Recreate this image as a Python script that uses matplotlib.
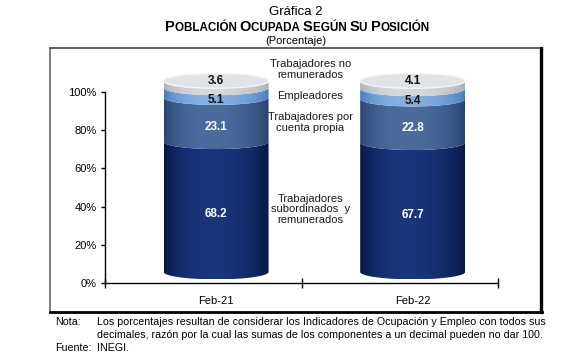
import matplotlib
matplotlib.use("Agg")
import matplotlib.pyplot as plt
import numpy as np
from matplotlib.colors import to_rgb
from matplotlib.lines import Line2D
from matplotlib.offsetbox import AnchoredOffsetbox, HPacker, TextArea
from matplotlib.patches import Ellipse, PathPatch
from matplotlib.path import Path

plt.rcParams['font.family'] = ['Liberation Sans', 'DejaVu Sans']

# data (percent of employed population)
periods = ['Feb-21', 'Feb-22']
subordinados = [68.2, 67.7]
cuenta_propia = [23.1, 22.8]
empleadores = [5.1, 5.4]
no_remunerados = [3.6, 4.1]
series_names = ['Trabajadores\nsubordinados  y\nremunerados',
                'Trabajadores por\ncuenta propia',
                'Empleadores',
                'Trabajadores no\nremunerados']
series = [subordinados, cuenta_propia, empleadores, no_remunerados]

# (edge colour, highlight colour) for each series
shades = [('#06143f', '#1a357c'),
          ('#27416c', '#4b6c9d'),
          ('#4679bb', '#85b0e4'),
          ('#a9aeb5', '#d6d9dd')]
value_colors = ['white', 'white', '#111111', '#111111']

title = 'POBLACIÓN OCUPADA SEGÚN SU POSICIÓN'

half_w = 0.267   # half width of a cylinder (x units)
ell_h = 3.9      # half height of the ellipses (y units)
depth = 5.8      # ellipse centre sits this far above the value

fig = plt.figure(figsize=(5.8, 3.62), dpi=100)
ax = fig.add_axes([0.181, 0.2182, 0.678, 0.607])


def front(xc, yc, reverse=False, n=80):
    th = np.linspace(np.pi, 2 * np.pi, n)
    if reverse:
        th = th[::-1]
    return np.column_stack([xc + half_w * np.cos(th), yc + ell_h * np.sin(th)])


t = np.linspace(0, 1, 256)
profile = np.where(t < 0.42, 1 - ((0.42 - t) / 0.42) ** 2, 1 - ((t - 0.42) / 0.58) ** 2)
profile = np.clip(profile, 0, 1) ** 0.7

x_pos = np.arange(len(periods))
for i, xc in enumerate(x_pos):
    bottom = 0.0
    for k, vals in enumerate(series):
        v = vals[i]
        c0 = bottom + depth
        c1 = bottom + v + depth
        verts = np.vstack([front(xc, c0), front(xc, c1, reverse=True), [[xc - half_w, c0]]])
        codes = [Path.MOVETO] + [Path.LINETO] * (len(verts) - 2) + [Path.CLOSEPOLY]
        patch = PathPatch(Path(verts, codes), facecolor='none', edgecolor='none',
                          transform=ax.transData)
        ax.add_patch(patch)
        lo, hi = np.array(to_rgb(shades[k][0])), np.array(to_rgb(shades[k][1]))
        grad = (lo + (hi - lo) * profile[:, None])[None, :, :]
        im = ax.imshow(grad, extent=[xc - half_w, xc + half_w, c0 - ell_h, c1],
                       aspect='auto', interpolation='bilinear', zorder=2)
        im.set_clip_path(patch)
        if k < len(series) - 1:
            ty = bottom + v / 2 + depth - ell_h
        else:
            ty = bottom + v + depth
        ax.text(xc, ty, f'{v:.1f}', ha='center', va='center', fontsize=8.5,
                fontweight='bold', color=value_colors[k], zorder=5)
        bottom += v
    # top face
    ax.add_patch(Ellipse((xc, bottom + depth), 2 * half_w, 2 * ell_h,
                         facecolor='#e1e3e6', edgecolor='#f6f6f7', lw=1.0, zorder=3))

# series names between the two cylinders
bottoms = np.cumsum([[0, 0]] + series[:-1], axis=0)
for k, name in enumerate(series_names):
    if k < len(series) - 1:
        ny = np.mean(bottoms[k] + np.array(series[k]) / 2) + depth - ell_h + 2.6
    else:
        ny = np.mean(bottoms[k] + np.array(series[k])) + depth + 6
    ax.text(0.48, ny, name, ha='center', va='center', fontsize=8, linespacing=1.1,
            color='#1a1a1a')

ax.set_xlim(-0.565, 1.435)
ax.set_ylim(0, 115)
ax.set_yticks(range(0, 101, 20))
ax.set_yticklabels([f'{v}%' for v in range(0, 101, 20)], fontsize=8)
ax.set_xticks(x_pos)
ax.set_xticklabels(periods, fontsize=8)
ax.set_xticks([-0.565, 0.435, 1.435], minor=True)
ax.tick_params(axis='x', which='major', length=0, pad=9)
ax.tick_params(axis='x', which='minor', direction='inout', length=7, width=1)
ax.tick_params(axis='y', direction='out', length=3, width=1, pad=3)
for s in ['top', 'right']:
    ax.spines[s].set_visible(False)
ax.spines['left'].set_bounds(0, 100)
ax.spines['left'].set_linewidth(1)
ax.spines['bottom'].set_linewidth(1)

# titles
fig.text(0.51, 0.967, 'Gráfica 2', ha='center', va='center', fontsize=9.5)
words = title.split(' ')
pieces = []
for j, word in enumerate(words):
    rest = word[1:] + (' ' if j < len(words) - 1 else '')
    pieces.append(TextArea(word[0], textprops=dict(fontsize=10.5, fontweight='bold')))
    pieces.append(TextArea(rest, textprops=dict(fontsize=8.4, fontweight='bold')))
box = HPacker(children=pieces, align='baseline', pad=0, sep=0)
fig.add_artist(AnchoredOffsetbox(loc='center', child=box, frameon=False, pad=0, borderpad=0,
                                 bbox_to_anchor=(0.513, 0.926), bbox_transform=fig.transFigure))
fig.text(0.51, 0.887, '(Porcentaje)', ha='center', va='center', fontsize=8)

# frame round the chart
x0, x1, y0, y1 = 0.0862, 0.9328, 0.1381, 0.8674
fig.add_artist(Line2D([x0, x1], [y1, y1], color='#444444', lw=1.2, transform=fig.transFigure))
fig.add_artist(Line2D([x0, x0], [y0, y1], color='#666666', lw=1.2, transform=fig.transFigure))
fig.add_artist(Line2D([x1, x1], [y0, y1], color='black', lw=2.4, transform=fig.transFigure))
fig.add_artist(Line2D([x0, x1 + 0.002], [y0, y0], color='black', lw=2.0, transform=fig.transFigure))

# notes
fig.text(0.095, 0.111, 'Nota:', fontsize=7.7, va='center')
fig.text(0.167, 0.111, 'Los porcentajes resultan de considerar los Indicadores de Ocupación y Empleo con todos sus',
         fontsize=7.7, va='center')
fig.text(0.167, 0.075, 'decimales, razón por la cual las sumas de los componentes a un decimal pueden no dar 100.',
         fontsize=7.7, va='center')
fig.text(0.095, 0.039, 'Fuente:', fontsize=7.7, va='center')
fig.text(0.167, 0.039, 'INEGI.', fontsize=7.7, va='center')

fig.savefig('out.png', dpi=100)
